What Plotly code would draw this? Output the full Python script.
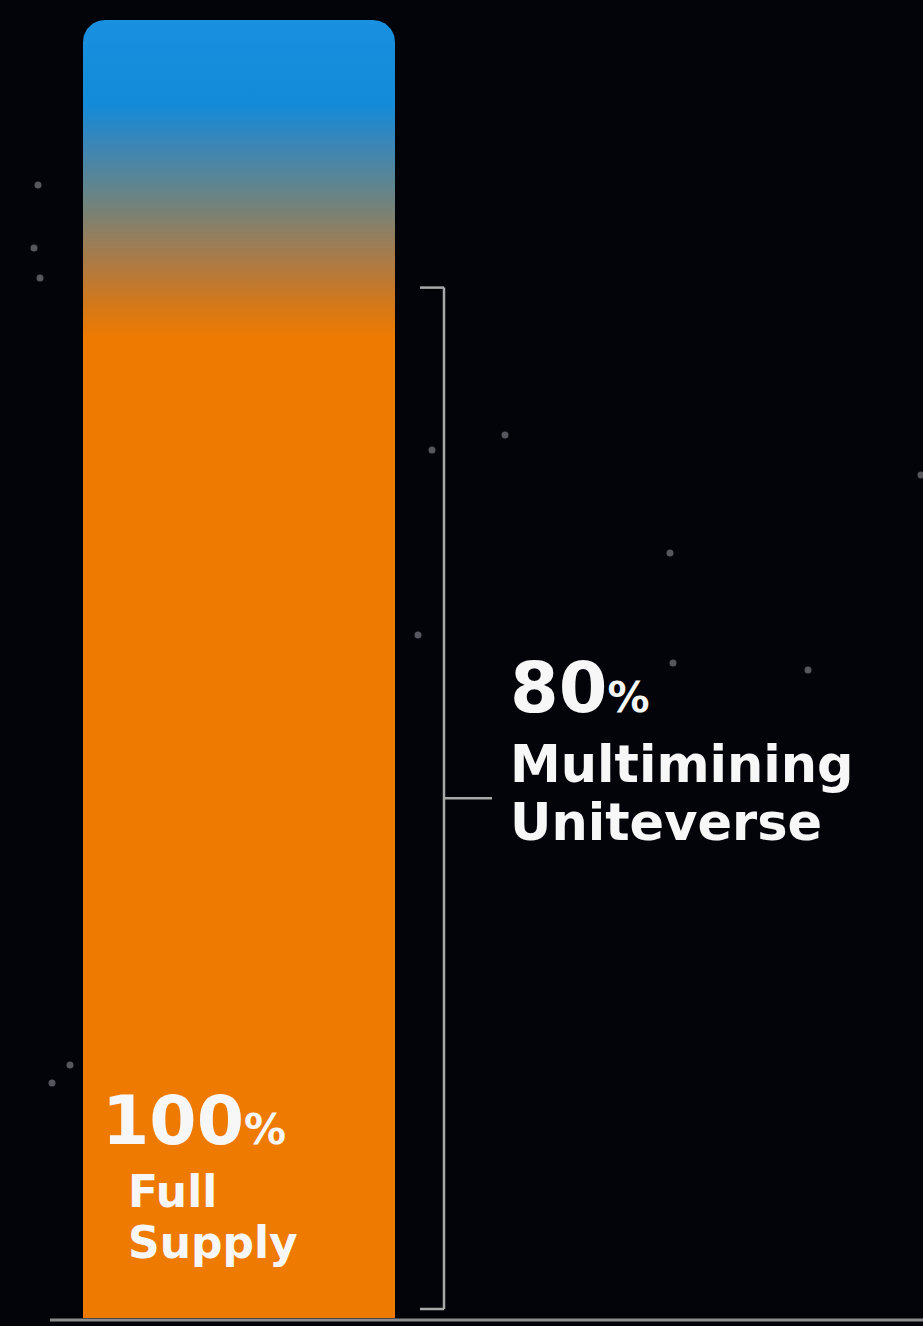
import numpy as np
import plotly.graph_objects as go

# ---- data ----
categories = ["Full Supply"]
supply_pct = [100]
multimining_pct = [80]
supply_labels = ["100", "Full", "Supply"]
multimining_labels = ["80", "Multimining", "Uniteverse"]

# decorative background stars (pixel positions)
star_px = [(38, 185), (34, 248), (40, 278), (505, 435), (432, 450), (670, 553),
           (418, 635), (673, 663), (808, 670), (70, 1065), (52, 1083), (921, 475)]

# ---- geometry ----
W, H = 923, 1326
bar_px_w = 312.0
bar_center_px = 239.0
px_per_y = 12.98
base_px = 1318.0

xmin = -bar_center_px / bar_px_w
xmax = (W - bar_center_px) / bar_px_w
ymin = -(H - base_px) / px_per_y
ymax = base_px / px_per_y

def px_x(p):
    return xmin + p / bar_px_w

def px_y(p):
    return (base_px - p) / px_per_y

fig = go.Figure()

# gradient bar with rounded top corners
val = supply_pct[0]
x0, x1 = -0.5, 0.5
r_px = 22.0
rx = r_px / bar_px_w
ry = r_px / px_per_y
t = np.linspace(0, np.pi / 2, 20)
xs = [x0, x1, x1]
ys = [0, 0, val - ry]
xs += list((x1 - rx) + rx * np.cos(t))
ys += list((val - ry) + ry * np.sin(t))
xs += list((x0 + rx) + rx * np.cos(t + np.pi / 2))
ys += list((val - ry) + ry * np.sin(t + np.pi / 2))
xs += [x0, x0]
ys += [val - ry, 0]

fig.add_trace(go.Scatter(
    x=xs, y=ys, mode="lines", fill="toself",
    line=dict(width=0, color="rgba(0,0,0,0)"),
    fillgradient=dict(
        type="vertical", start=0, stop=val,
        colorscale=[
            [0.0, "#ee7a02"], [0.755, "#ee7a02"], [0.78, "#d47818"],
            [0.81, "#b07a40"], [0.842, "#878068"], [0.873, "#5e8590"],
            [0.905, "#3a86b8"], [0.935, "#138bd8"], [1.0, "#1990e0"],
        ],
    ),
    hoverinfo="skip", showlegend=False, name=categories[0],
))

# stars
fig.add_trace(go.Scatter(
    x=[px_x(p[0]) for p in star_px], y=[px_y(p[1]) for p in star_px],
    mode="markers", marker=dict(size=7, color="rgba(170,170,180,0.5)"),
    hoverinfo="skip", showlegend=False,
))

# bracket for 80%
sub = multimining_pct[0]
bx = px_x(444)
bl = px_x(420)
bt = px_x(492)
line_c = "#a9a9a9"
bot = px_y(1309)
top = sub - (px_y(280) - px_y(288))
fig.add_shape(type="line", x0=bx, x1=bx, y0=bot, y1=top, line=dict(color=line_c, width=2.5))
fig.add_shape(type="line", x0=bl, x1=bx, y0=top, y1=top, line=dict(color=line_c, width=2.5))
fig.add_shape(type="line", x0=bl, x1=bx, y0=bot, y1=bot, line=dict(color=line_c, width=2.5))
mid = (top + bot) / 2
fig.add_shape(type="line", x0=bx, x1=bt, y0=mid, y1=mid, line=dict(color=line_c, width=2.5))

# baseline
fig.add_shape(type="line", x0=px_x(50), x1=xmax, y0=px_y(1320), y1=px_y(1320),
              line=dict(color="#8c8c8c", width=3))

font = "DejaVu Sans"
white = "#f7f7f7"

def ann(text, xp, yp, size):
    fig.add_annotation(x=px_x(xp), y=px_y(yp), text=text, showarrow=False,
                       xanchor="left", yanchor="middle",
                       font=dict(family=font, size=size, color=white, weight="bold"))

ann(f"{multimining_labels[0]}<span style='font-size:42px'>%</span>", 508, 688, 70)
ann(multimining_labels[1], 508, 764, 51)
ann(multimining_labels[2], 508, 822, 51)
ann(f"{supply_labels[0]}<span style='font-size:42px'>%</span>", 100, 1120, 68)
ann(supply_labels[1], 126, 1191, 44)
ann(supply_labels[2], 126, 1242, 44)

fig.update_layout(
    width=W, height=H,
    margin=dict(l=0, r=0, t=0, b=0),
    paper_bgcolor="#030409", plot_bgcolor="#030409",
    xaxis=dict(range=[xmin, xmax], visible=False, fixedrange=True),
    yaxis=dict(range=[ymin, ymax], visible=False, fixedrange=True),
    showlegend=False,
)

fig.write_html(
    "out.html",
    config={"displayModeBar": False},
    post_script="document.body.style.margin='0';document.body.style.background='#030409';"
                "document.documentElement.style.overflow='hidden';",
)
